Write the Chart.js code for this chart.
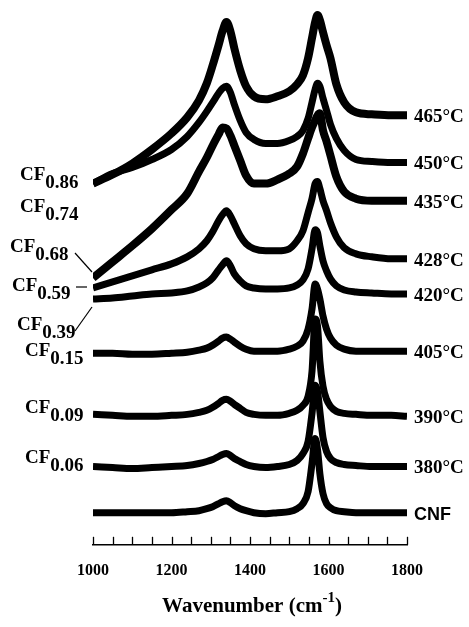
<!DOCTYPE html>
<html>
<head>
<meta charset="utf-8">
<script src="https://cdn.jsdelivr.net/npm/chart.js@4.4.1/dist/chart.umd.min.js"></script>
<style>
  html, body { margin: 0; padding: 0; background: #fff; }
  #wrap { width: 469px; height: 627px; }
</style>
</head>
<body>
<div id="wrap"><canvas id="ramanChart" width="469" height="627"></canvas></div>
<script>
// Raman shift grid (cm-1) shared by all spectra
const wavenumbers = [1000, 1050, 1100, 1150, 1200, 1240, 1270, 1290, 1305, 1320,
  1330, 1340, 1350, 1360, 1375, 1390, 1410, 1440, 1470, 1500,
  1520, 1535, 1548, 1558, 1566, 1572, 1578, 1586, 1595, 1605,
  1620, 1640, 1670, 1710, 1760, 1800];

// Stacked spectra (arb. units, vertical offset included), top to bottom
const s465 = [360, 369, 380, 394, 410, 426, 443, 460, 478, 498,
  512, 521, 512, 495, 473, 457, 447, 444, 447, 452,
  459, 468, 485, 505, 521, 528, 523, 511, 498, 485,
  459, 441, 431, 429, 428, 428];
const s450 = [360, 370, 376, 384, 394, 407, 421, 432, 441, 450,
  455, 457, 451, 439, 423, 411, 404, 400, 400, 403,
  407, 413, 425, 441, 454, 460, 457, 445, 433, 419,
  405, 393, 384, 382, 381, 381];
const s435 = [266, 282, 298, 315, 334, 350, 372, 386, 398, 409,
  416, 415, 408, 398, 383, 368, 360, 360, 364, 370,
  377, 390, 405, 416, 423, 428, 430, 413, 402, 388,
  367, 352, 345, 343, 343, 343];
const s428 = [256, 262, 268, 274, 280, 287, 295, 303, 312, 323,
  329, 333, 328, 320, 308, 300, 295, 293, 293, 295,
  303, 313, 331, 345, 360, 362, 355, 343, 333, 321,
  307, 296, 290, 287, 285, 285];
const s420 = [245, 246, 248, 250, 251, 253, 257, 261, 266, 274,
  279, 283, 278, 270, 263, 258, 256, 255, 255, 256,
  259, 264, 275, 295, 314, 311, 298, 283, 273, 265,
  258, 254, 252, 251, 250, 250];
const s405 = [191, 191, 190, 190, 191, 192, 194, 196, 199, 203,
  206, 207, 205, 202, 198, 195, 193, 193, 193, 195,
  198, 203, 215, 235, 260, 255, 245, 228, 215, 206,
  199, 195, 193, 193, 193, 193];
const s390 = [130, 129, 128, 128, 129, 130, 132, 134, 137, 141,
  144, 145, 143, 140, 136, 132, 130, 129, 129, 131,
  134, 139, 148, 173, 225, 218, 183, 158, 145, 138,
  133, 131, 130, 129, 129, 128];
const s380 = [78, 77, 76, 77, 78, 79, 81, 83, 85, 88,
  90, 91, 89, 86, 83, 80, 78, 77, 78, 80,
  84, 91, 103, 131, 159, 153, 133, 107, 93, 86,
  82, 80, 79, 78, 78, 78];
const sCNF = [32, 32, 32, 32, 32, 33, 34, 36, 38, 41,
  43, 44, 42, 39, 36, 34, 32, 31, 32, 33,
  36, 41, 53, 81, 106, 95, 71, 51, 41, 37,
  34, 33, 32, 32, 32, 32];

const spectra = [s465, s450, s435, s428, s420, s405, s390, s380, sCNF];
const tempLabels = ["465°C", "450°C", "435°C", "428°C", "420°C", "405°C", "390°C", "380°C", "CNF"];
const cfSubs = ["0.86", "0.74", "0.68", "0.59", "0.39", "0.15", "0.09", "0.06"];
const xTickLabels = [1000, 1200, 1400, 1600, 1800];

// where each CF label sits (left margin), baseline of "CF"
const cfPos = [
  [20, 180], [20, 212], [10, 252], [12, 291], [17, 330], [25, 356], [25, 413], [25, 463]
];

const SERIF = "'Liberation Serif', 'Times New Roman', serif";

const annotate = {
  id: "annotate",
  afterDraw(chart) {
    const { ctx, chartArea } = chart;
    const xs = chart.scales.x, ys = chart.scales.y;
    ctx.save();
    ctx.fillStyle = "#000";
    ctx.strokeStyle = "#000";

    // tick marks point up into the plot
    ctx.lineWidth = 1.3;
    xs.ticks.forEach(t => {
      const px = Math.round(xs.getPixelForValue(t.value)) + 0.5;
      ctx.beginPath();
      ctx.moveTo(px, chartArea.bottom);
      ctx.lineTo(px, chartArea.bottom - 8);
      ctx.stroke();
    });

    // temperature labels at right end of each trace
    ctx.textAlign = "left";
    ctx.textBaseline = "middle";
    spectra.forEach((s, i) => {
      const y = ys.getPixelForValue(s[s.length - 1]) + 2;
      ctx.font = tempLabels[i] === "CNF" ? "bold 18px 'Liberation Sans', Arial, sans-serif" : "bold 19px " + SERIF;
      ctx.fillText(tempLabels[i], xs.right + 7, y);
    });

    // CF_x labels with subscripts
    ctx.textBaseline = "alphabetic";
    cfSubs.forEach((sub, i) => {
      const [x, y] = cfPos[i];
      ctx.font = "bold 19px " + SERIF;
      ctx.fillText("CF", x, y);
      const w = ctx.measureText("CF").width;
      ctx.fillText(sub, x + w, y + 8);
    });

    // leader lines
    ctx.lineWidth = 1.2;
    [[75, 253, 92, 272], [76, 287, 87, 287], [75, 331, 92, 307]].forEach(([a, b, c, d]) => {
      ctx.beginPath();
      ctx.moveTo(a, b);
      ctx.lineTo(c, d);
      ctx.stroke();
    });

    // axis title with superscript
    const main = "Wavenumber (cm", sup = "-1", close = ")";
    const big = "bold 21px " + SERIF, small = "bold 15px " + SERIF;
    ctx.font = big;
    const w1 = ctx.measureText(main).width, w3 = ctx.measureText(close).width;
    ctx.font = small;
    const w2 = ctx.measureText(sup).width;
    const cx = (xs.left + xs.right) / 2;
    let x0 = cx - (w1 + w2 + w3) / 2 + 2;
    const base = chartArea.bottom + 67;
    ctx.font = big;
    ctx.fillText(main, x0, base);
    ctx.font = small;
    ctx.fillText(sup, x0 + w1, base - 10);
    ctx.font = big;
    ctx.fillText(close, x0 + w1 + w2, base);

    ctx.restore();
  }
};

const datasets = spectra.map((s, i) => ({
  label: tempLabels[i],
  data: wavenumbers.map((w, j) => ({ x: w, y: s[j] })),
  borderColor: "#000",
  borderWidth: (i === 0 || i === 2) ? 8 : 7,
  pointRadius: 0,
  cubicInterpolationMode: "monotone",
  borderJoinStyle: "round",
  fill: false
}));

new Chart(document.getElementById("ramanChart"), {
  type: "line",
  data: { datasets },
  options: {
    responsive: false,
    animation: false,
    layout: { padding: { top: 8, left: 93, right: 62, bottom: 31 } },
    plugins: { legend: { display: false }, tooltip: { enabled: false } },
    scales: {
      x: {
        type: "linear",
        min: 1000,
        max: 1800,
        grid: { display: false, drawTicks: false },
        border: { display: true, color: "#000", width: 1.5 },
        ticks: {
          stepSize: 50,
          autoSkip: false,
          maxRotation: 0,
          padding: 16,
          color: "#000",
          font: { family: SERIF, size: 16, weight: "bold" },
          callback: v => xTickLabels.includes(v) ? String(v) : ""
        }
      },
      y: {
        display: false,
        min: 0,
        max: 535
      }
    }
  },
  plugins: [annotate]
});
</script>
</body>
</html>
